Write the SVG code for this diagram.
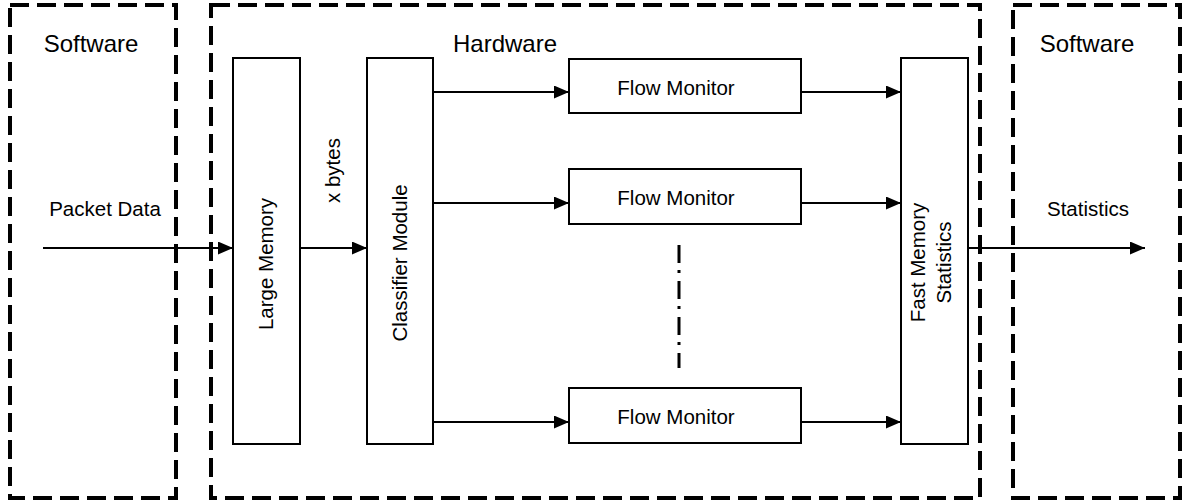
<svg xmlns="http://www.w3.org/2000/svg" width="1185" height="503" viewBox="0 0 1185 503">
<style>
.zone{fill:none;stroke:#000;stroke-width:4;stroke-dasharray:19 8}
.box{fill:#fff;stroke:#000;stroke-width:2}
.conn{stroke:#000;stroke-width:2;fill:none}
text{font-family:"Liberation Sans",Arial,sans-serif;fill:#000}
.title{font-size:24px;text-anchor:middle}
.lbl{font-size:20.5px;text-anchor:middle}
.start{text-anchor:start}
</style>
<defs>
<marker id="arr" markerUnits="userSpaceOnUse" markerWidth="16" markerHeight="14" refX="15" refY="6.5" orient="auto">
<path d="M0,0 L15,6.5 L0,13 Z" fill="#000"/>
</marker>
</defs>
<g id="software-left">
<rect class="zone" x="10" y="5" width="166" height="493"/>
<text class="title" x="91" y="52">Software</text>
<text class="lbl" x="105" y="216">Packet Data</text>
</g>
<g id="hardware">
<rect class="zone" x="211" y="5" width="769" height="493"/>
<text class="title" x="505" y="52">Hardware</text>
</g>
<g id="software-right">
<rect class="zone" x="1013" y="5" width="167" height="493"/>
<text class="title" x="1087" y="52">Software</text>
<text class="lbl" x="1088" y="216">Statistics</text>
</g>
<g id="connectors">
<line class="conn" x1="43" y1="248" x2="233" y2="248" marker-end="url(#arr)"/>
<line class="conn" x1="300" y1="248" x2="367" y2="248" marker-end="url(#arr)"/>
<line class="conn" x1="433" y1="92" x2="569" y2="92" marker-end="url(#arr)"/>
<line class="conn" x1="433" y1="203" x2="569" y2="203" marker-end="url(#arr)"/>
<line class="conn" x1="433" y1="422" x2="569" y2="422" marker-end="url(#arr)"/>
<line class="conn" x1="801" y1="92" x2="901" y2="92" marker-end="url(#arr)"/>
<line class="conn" x1="801" y1="203" x2="901" y2="203" marker-end="url(#arr)"/>
<line class="conn" x1="801" y1="422" x2="901" y2="422" marker-end="url(#arr)"/>
<line class="conn" x1="968" y1="248" x2="1145" y2="248" marker-end="url(#arr)"/>
<line x1="679" y1="245" x2="679" y2="368" stroke="#000" stroke-width="3" stroke-dasharray="18 7 3 8"/>
<text class="lbl start" transform="translate(340,203) rotate(-90)">x bytes</text>
</g>
<g id="large-memory">
<rect class="box" x="233" y="58" width="67" height="386"/>
<text class="lbl" transform="translate(273,264) rotate(-90)">Large Memory</text>
</g>
<g id="classifier">
<rect class="box" x="367" y="58" width="66" height="386"/>
<text class="lbl" transform="translate(407,263) rotate(-90)">Classifier Module</text>
</g>
<g id="flow-monitor-1">
<rect class="box" x="569" y="59" width="232" height="54"/>
<text class="lbl" x="676" y="95">Flow Monitor</text>
</g>
<g id="flow-monitor-2">
<rect class="box" x="569" y="169" width="232" height="55"/>
<text class="lbl" x="676" y="205">Flow Monitor</text>
</g>
<g id="flow-monitor-3">
<rect class="box" x="569" y="388" width="232" height="55"/>
<text class="lbl" x="676" y="424">Flow Monitor</text>
</g>
<g id="fast-memory">
<rect class="box" x="901" y="58" width="67" height="386"/>
<text class="lbl" transform="translate(925,262.5) rotate(-90)">Fast Memory</text>
<text class="lbl" transform="translate(951,262.5) rotate(-90)">Statistics</text>
</g>
</svg>
